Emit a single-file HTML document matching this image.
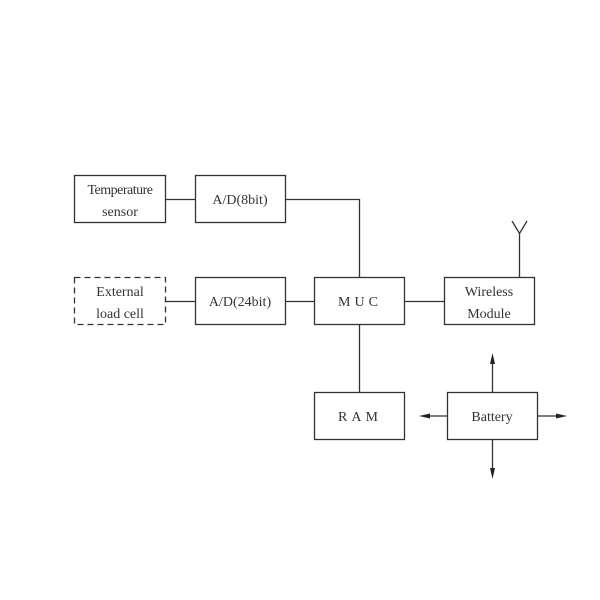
<!DOCTYPE html>
<html><head><style>body{margin:0;background:#fff}svg{display:block}</style></head><body>
<svg width="600" height="600" xmlns="http://www.w3.org/2000/svg" font-family="Liberation Serif, serif" font-size="14" fill="none" stroke="#333" stroke-width="1.3">
<rect x="74.5" y="175.5" width="91" height="47"/>
<rect x="195.5" y="175.5" width="90" height="47"/>
<rect x="74.5" y="277.5" width="91" height="47" stroke-dasharray="6,4"/>
<rect x="195.5" y="277.5" width="90" height="47"/>
<rect x="314.5" y="277.5" width="90" height="47"/>
<rect x="444.5" y="277.5" width="90" height="47"/>
<rect x="314.5" y="392.5" width="90" height="47"/>
<rect x="447.5" y="392.5" width="90" height="47"/>
<path d="M165.5 199.5H195.5M285.5 199.5H359.5V277.5M165.5 301.5H195.5M285.5 301.5H314.5M404.5 301.5H444.5M359.5 324.5V392.5M519.5 277.5V233.5M512 221L519.5 233.5L527 221"/>
<path d="M492.5 392.5V358M492.5 439.5V474M447.5 416H424M537.5 416H562"/>
<g fill="#222" stroke="none">
<polygon points="492.5,353 490,364 495,364"/>
<polygon points="492.5,479 490,468 495,468"/>
<polygon points="419,416 430,413.5 430,418.5"/>
<polygon points="567,416 556,413.5 556,418.5"/>
</g>
<g fill="#333" stroke="none" text-anchor="middle">
<text x="120" y="194" letter-spacing="-0.5">Temperature</text>
<text x="120" y="216">sensor</text>
<text x="240" y="204">A/D(8bit)</text>
<text x="120" y="296">External</text>
<text x="120" y="318">load cell</text>
<text x="240" y="306">A/D(24bit)</text>
<text x="360" y="306" letter-spacing="4">MUC</text>
<text x="489" y="296">Wireless</text>
<text x="489" y="318">Module</text>
<text x="360" y="421" letter-spacing="4">RAM</text>
<text x="492" y="421">Battery</text>
</g>
</svg>
</body></html>
